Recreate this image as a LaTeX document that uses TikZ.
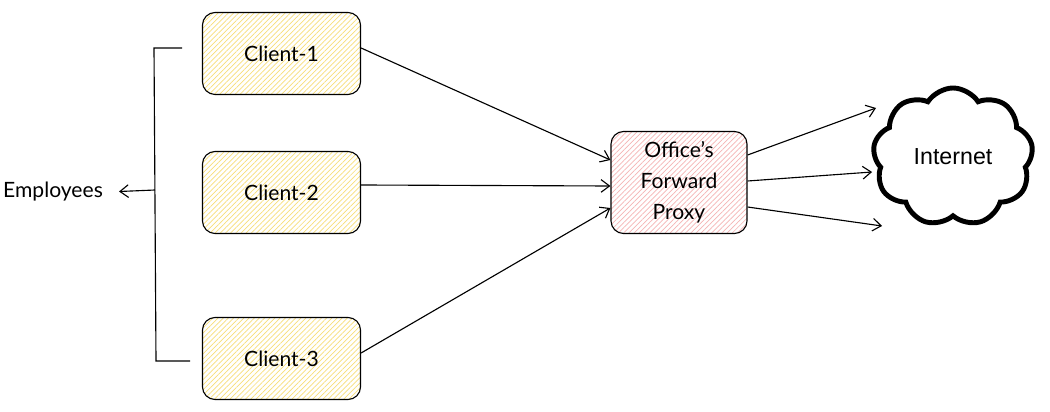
\documentclass[tikz,border=0pt]{standalone}
\usepackage{fontspec}
\setmainfont{Lato}
\newfontfamily\cloudfont{Liberation Sans}
\usepackage{tikz}
\usetikzlibrary{arrows.meta,positioning,shapes.symbols,patterns.meta}
\definecolor{hatchyellow}{RGB}{248,222,120}
\definecolor{hatchred}{RGB}{245,180,180}

\begin{document}
\begin{tikzpicture}
[x=0.025cm,y=-0.025cm,>={Straight Barb[length=6pt,width=9pt]},
  client node/.style={draw,line width=0.8pt,rounded corners=9pt,minimum width=3.95cm,minimum height=2.05cm,
    preaction={fill=white},preaction={pattern={Lines[angle=45,distance=2.6pt,line width=0.5pt]},pattern color=hatchyellow},
    font=\fontsize{15}{17}\selectfont},
  proxy node/.style={draw,line width=0.8pt,rounded corners=9pt,minimum width=3.4cm,minimum height=2.55cm,
    preaction={fill=white},preaction={pattern={Lines[angle=45,distance=2.6pt,line width=0.5pt]},pattern color=hatchred},
    align=center,font=\fontsize{15}{22}\selectfont},
  cloud node/.style={draw,cloud,cloud puffs=9,cloud puff arc=115,aspect=1.2,line width=3.5pt,
    minimum width=4cm,minimum height=3.45cm,font=\cloudfont\fontsize{16.5}{18}\selectfont},
  link/.style={->,line width=0.8pt}]

  \useasboundingbox (0,0) rectangle (1050,412);

  \node [client node] (Client1) at 	(281.5,53.5) 	{Client-1};
  \node [client node] (Client2) at 	(281.5,192.5)	{Client-2};
  \node [client node] (Client3) at 	(281.5,358.5)	{Client-3};
  \node [proxy node] (Proxy) at 	(679,182.5) 	{Office{\char"0027}s\\Forward\\Proxy};
  \node [cloud node] (Internet) at 	(953,157) 	{Internet};
  \node [font=\fontsize{15}{17}\selectfont] (Employees) at (53,192) {Employees};

  % bracket grouping the clients
  \coordinate (top) at (182,48);
  \coordinate (bottom) at (190,361);
  \coordinate (mid) at (155,190);
  \draw [line width=0.8pt] (top) -- (154,48) -- (156,361) -- (bottom);
  \draw [link,shorten >=8pt] (mid) -- (Employees.east);

  \draw [link] (Client1.east |- 0,48) -- (Proxy.west |- 0,160);
  \draw [link] (Client2.east |- 0,185) -- (Proxy.west |- 0,186);
  \draw [link] (Client3.east |- 0,353) -- (Proxy.west |- 0,208);

  \coordinate (out1) at (876,108);
  \coordinate (out3) at (882,226);
  \draw [link] (Proxy.east |- 0,155) -- (out1);
  \draw [link] (Proxy.east |- 0,181) -- (Internet.west |- 0,172);
  \draw [link] (Proxy.east |- 0,207) -- (out3);

\end{tikzpicture}
\end{document}
